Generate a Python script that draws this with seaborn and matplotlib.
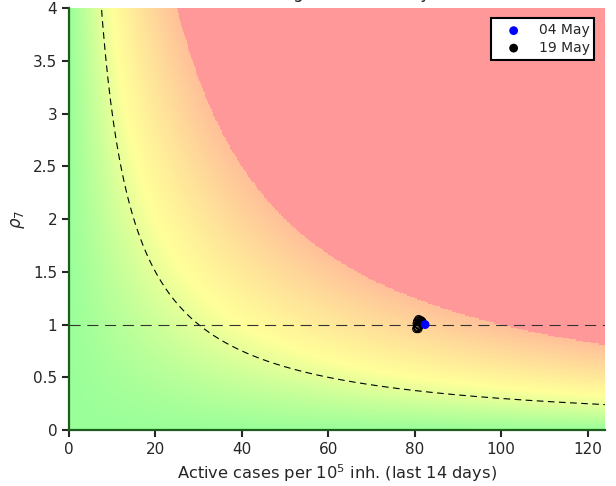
import numpy as np
import pandas as pd
import matplotlib
matplotlib.use("Agg")
import matplotlib.pyplot as plt
import seaborn as sns
from matplotlib.colors import LinearSegmentedColormap
from matplotlib.ticker import FuncFormatter

# daily points, 04 May -> 19 May
dates = ["04 May", "05 May", "06 May", "07 May", "08 May", "09 May", "10 May", "11 May",
         "12 May", "13 May", "14 May", "15 May", "16 May", "17 May", "18 May", "19 May"]
cases_14d = [82.4, 81.2, 80.7, 80.4, 80.6, 81.0, 80.9, 80.5, 80.7, 81.1, 81.4, 80.6, 80.8, 81.0, 81.3, 81.7]
rho_7 = [1.00, 1.03, 1.00, 0.96, 0.97, 1.04, 1.05, 1.01, 0.98, 0.99, 1.04, 1.03, 0.96, 0.99, 1.02, 1.03]

x_ticks = [0, 20, 40, 60, 80, 100, 120]
y_ticks = [0, 0.5, 1, 1.5, 2, 2.5, 3, 3.5, 4]
x_max = 124
y_max = 4
epg_threshold = 30      # dashed hyperbola
epg_saturation = 100    # red above this

df = pd.DataFrame({"date": dates, "cases": cases_14d, "rho": rho_7})

sns.set_style("ticks")
plt.rcParams['font.family'] = ['DejaVu Sans']

fig, ax = plt.subplots(figsize=(6.16, 4.86), dpi=100)
fig.subplots_adjust(left=0.112, right=0.982, bottom=0.115, top=0.9835)

# background risk map (cases * rho), green -> yellow -> orange, red above saturation
gx = np.linspace(0, x_max, 600)
gy = np.linspace(0, y_max, 320)
X, Y = np.meshgrid(gx, gy)
cmap = LinearSegmentedColormap.from_list(
    "risk", [(0, (0, 1, 0)), (0.4, (1, 1, 0)), (1, (1, 0.38, 0))])
cmap.set_over((1, 0, 0))
ax.pcolormesh(gx, gy, X * Y, cmap=cmap, vmin=0, vmax=epg_saturation,
              alpha=0.4, shading="auto", zorder=0, rasterized=True)

# reference lines
hx = np.linspace(1, x_max, 400)
ax.plot(hx, epg_threshold / hx, color="k", lw=0.8, dashes=(6, 4), zorder=2)
ax.axhline(1, color="#333333", lw=0.8, dashes=(10, 6), zorder=2)

# intermediate days as hollow circles
mid = df.iloc[1:-1]
ax.scatter(mid["cases"], mid["rho"], s=30, facecolors="none", edgecolors="k",
           linewidths=0.8, zorder=3)

first = df.iloc[[0]]
last = df.iloc[[-1]]
sns.scatterplot(data=first, x="cases", y="rho", color="blue", s=40, edgecolor="none",
                label=dates[0], ax=ax, zorder=5)
sns.scatterplot(data=last, x="cases", y="rho", color="black", s=40, edgecolor="none",
                label=dates[-1], ax=ax, zorder=4)

ax.set_xlim(0, x_max)
ax.set_ylim(0, y_max)
ax.set_xticks(x_ticks)
ax.set_yticks(y_ticks)
ax.yaxis.set_major_formatter(FuncFormatter(lambda v, p: f"{v:g}"))
ax.tick_params(labelsize=11, length=5, width=1.5)

for side in ["top", "right"]:
    ax.spines[side].set_visible(False)
for side in ["left", "bottom"]:
    ax.spines[side].set_color("#1d5e1d")
    ax.spines[side].set_linewidth(1.6)

ax.set_xlabel("Active cases per 10$^5$ inh. (last 14 days)", fontsize=11.7)
ax.set_ylabel(r"$\rho_7$", fontsize=12)
ax.set_title("Risk diagram (last 7 days)", fontsize=12, pad=7.5)

leg = ax.legend(loc="upper right", fontsize=10, frameon=True, fancybox=False,
                borderaxespad=0.75, handlelength=2.6, handletextpad=0.5,
                borderpad=0.35, labelspacing=0.25)
leg.get_frame().set_edgecolor("black")
leg.get_frame().set_linewidth(1.5)
leg.get_frame().set_alpha(1)

fig.savefig("out.png", dpi=100)
